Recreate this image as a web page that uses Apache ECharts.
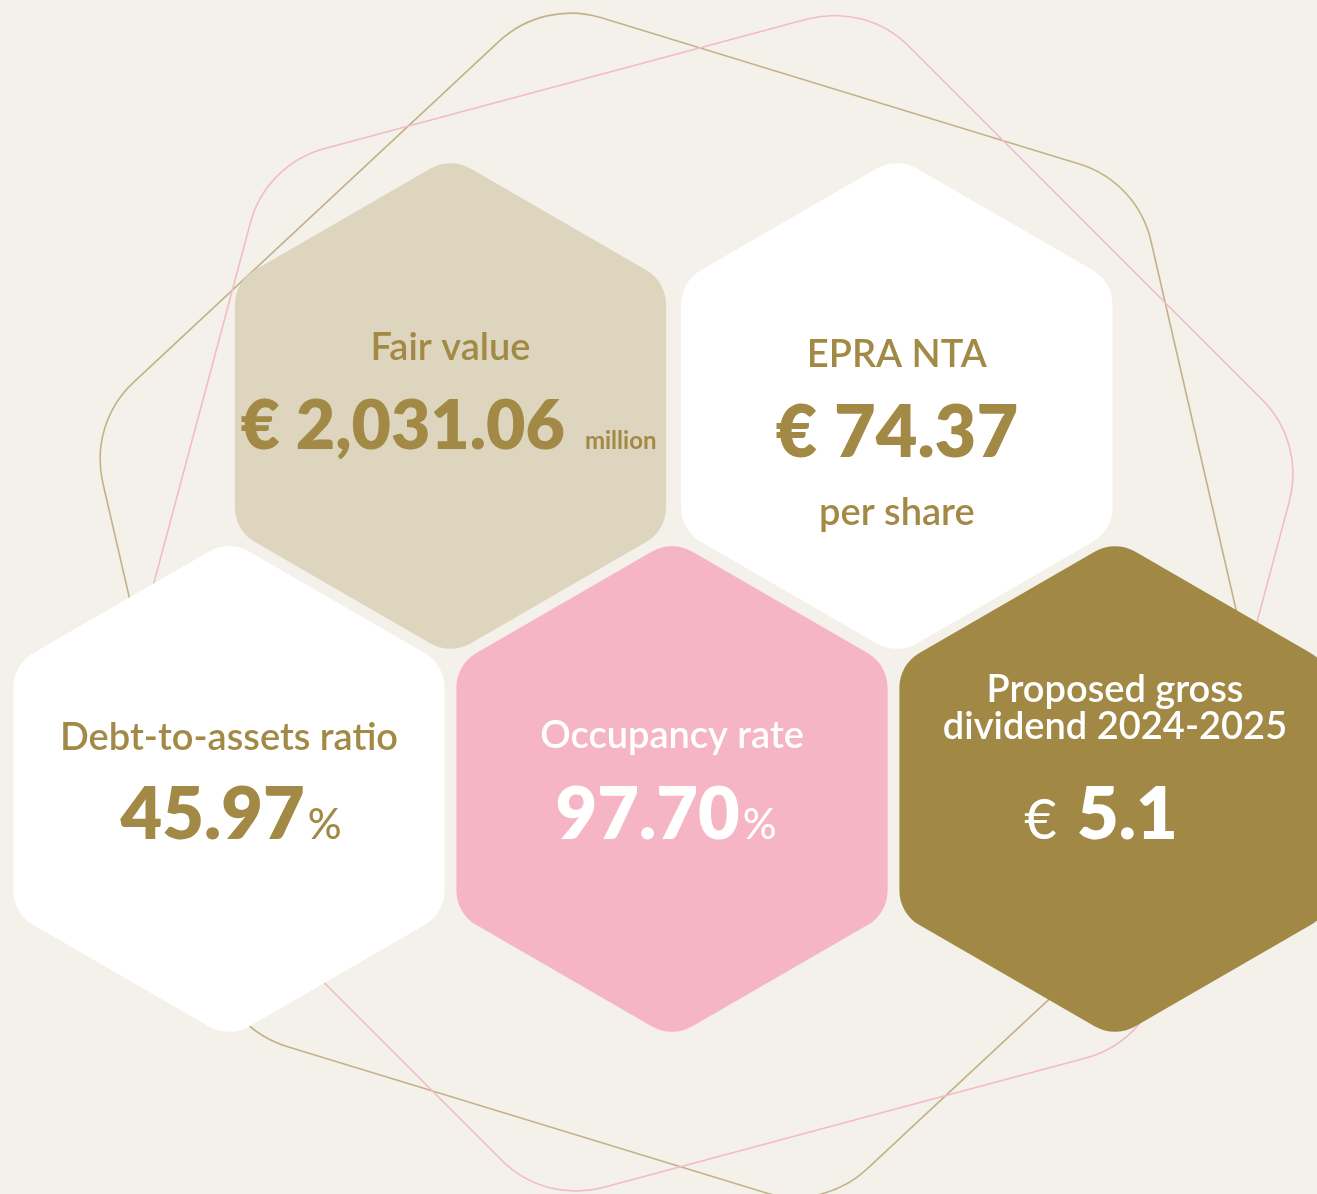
<!DOCTYPE html>
<html>
<head>
<meta charset="utf-8">
<title>Key figures</title>
<script src="https://cdn.jsdelivr.net/npm/echarts@6/dist/echarts.min.js"></script>
<style>
  html, body { margin: 0; padding: 0; background: #F4F1EA; }
  #main { width: 1317px; height: 1194px; }
</style>
</head>
<body>
<div id="main"></div>
<script>
// key figures
const titles = ['Fair value', 'EPRA NTA', 'Debt-to-assets ratio', 'Occupancy rate', 'Proposed gross\ndividend 2024-2025'];
const prefixes = ['€ ', '€ ', '', '', '€ '];
const values = ['2,031.06', '74.37', '45.97', '97.70', '5.1'];
const units = ['million', '', '%', '%', ''];
const notes = ['', 'per share', '', '', ''];

// hex grid cell [col, row] of each tile
const cells = [[1, 0], [3.015, 0], [0, 1], [2, 1], [4, 1]];
const fills = ['#DDD5BE', '#FFFFFF', '#FFFFFF', '#F5B5C4', '#A18945'];
const inks = ['#A28945', '#A28945', '#A28945', '#FFFFFF', '#FFFFFF'];
// offsets (px) of title / value / note from the tile centre
const titleDy = [-58, -51, -51, -53, -81];
const valueDy = [21, 28, 27, 27, 27];
const valueDx = [-2, 0, 2, -6, -14];
const noteDy = [0, 107, 0, 0, 0];
const numSize = [68, 72, 72, 72, 72];
const prefSize = [68, 72, 0, 0, 56];
const prefWeight = [800, 800, 400, 400, 400];
const prefGap = [0, 0, 0, 0, 6];
const unitSize = [24, 0, 42, 42, 0];
const unitWeight = [700, 400, 500, 500, 400];
const unitGap = [20, 0, 3, 3, 0];

// thin rotated outlines behind the tiles: [col, row, angle of first corner]
const rings = [[2.05, 0.52, -103], [2.15, 0.515, -75]];
const ringColors = ['#C3B189', '#F2BBC7'];

const X_MIN = -229 / 221.5, X_MAX = (1317 - 229) / 221.5;
const Y_MIN = -406 / 383, Y_MAX = (1194 - 406) / 383;
const TILE_R = 249, TILE_CORNER = 40;
const RING_R = 621, RING_CORNER = 105;
const FONT = 'Lato, "Open Sans", sans-serif';
const TITLE_SIZE = 38;
const BASE = 0.3225; // Lato: alphabetic baseline lies this many em below the middle line

function hexPath(cx, cy, R, startDeg, r) {
  const pts = [];
  for (let i = 0; i < 6; i++) {
    const a = (startDeg + i * 60) * Math.PI / 180;
    pts.push([cx + R * Math.cos(a), cy + R * Math.sin(a)]);
  }
  const t = r * Math.tan(Math.PI / 6);
  const k = 0.619;
  const f = p => p[0].toFixed(1) + ' ' + p[1].toFixed(1);
  let d = '';
  for (let i = 0; i < 6; i++) {
    const p = pts[(i + 5) % 6], v = pts[i], n = pts[(i + 1) % 6];
    const L = Math.hypot(v[0] - p[0], v[1] - p[1]);
    const a = [v[0] + (p[0] - v[0]) * t / L, v[1] + (p[1] - v[1]) * t / L];
    const b = [v[0] + (n[0] - v[0]) * t / L, v[1] + (n[1] - v[1]) * t / L];
    const c1 = [a[0] + (v[0] - a[0]) * k, a[1] + (v[1] - a[1]) * k];
    const c2 = [b[0] + (v[0] - b[0]) * k, b[1] + (v[1] - b[1]) * k];
    d += (i === 0 ? 'M' : 'L') + f(a) + 'C' + f(c1) + ' ' + f(c2) + ' ' + f(b);
  }
  return d + 'Z';
}

// smaller tokens sit on the baseline of the big number:
// bottom-aligned token box of this height puts both baselines level
function baselineBox(H, s) {
  return H - 2 * BASE * (H - s);
}

function valueLine(i) {
  const H = numSize[i];
  const rich = {
    v: { fontFamily: FONT, fontSize: H, fontWeight: 800, lineHeight: H, height: H, fill: inks[i] }
  };
  let text = '';
  if (prefixes[i]) {
    const s = prefSize[i];
    rich.p = {
      fontFamily: FONT, fontSize: s, fontWeight: prefWeight[i], fill: inks[i],
      height: baselineBox(H, s), lineHeight: baselineBox(H, s), verticalAlign: 'bottom',
      padding: [0, prefGap[i], 0, 0]
    };
    text += '{p|' + prefixes[i] + '}';
  }
  text += '{v|' + values[i] + '}';
  if (units[i]) {
    const s = unitSize[i];
    rich.u = {
      fontFamily: FONT, fontSize: s, fontWeight: unitWeight[i], fill: inks[i],
      height: baselineBox(H, s), lineHeight: baselineBox(H, s), verticalAlign: 'bottom',
      padding: [0, 0, 0, unitGap[i]]
    };
    text += '{u|' + units[i] + '}';
  }
  return { text, rich };
}

const chart = echarts.init(document.getElementById('main'));

const option = {
  backgroundColor: '#F4F1EA',
  animation: false,
  grid: { left: 0, right: 0, top: 0, bottom: 0 },
  xAxis: { type: 'value', min: X_MIN, max: X_MAX, show: false },
  yAxis: { type: 'value', min: Y_MIN, max: Y_MAX, inverse: true, show: false },
  series: [
    {
      type: 'custom',
      name: 'rings',
      silent: true,
      encode: { x: 0, y: 1 },
      data: rings.map((r, i) => [r[0], r[1], r[2], i]),
      renderItem: function (params, api) {
        const c = api.coord([api.value(0), api.value(1)]);
        const i = api.value(3);
        return {
          type: 'path',
          shape: { pathData: hexPath(c[0], c[1], RING_R, api.value(2), RING_CORNER) },
          style: { fill: 'none', stroke: ringColors[i], lineWidth: 1.6 }
        };
      }
    },
    {
      type: 'custom',
      name: 'tiles',
      silent: true,
      encode: { x: 0, y: 1 },
      data: cells.map((c, i) => [c[0], c[1], i]),
      renderItem: function (params, api) {
        const c = api.coord([api.value(0), api.value(1)]);
        const i = api.value(2);
        const children = [{
          type: 'path',
          shape: { pathData: hexPath(c[0], c[1], TILE_R, -90, TILE_CORNER) },
          style: { fill: fills[i] }
        }, {
          type: 'text',
          x: c[0], y: c[1] + titleDy[i],
          style: {
            text: titles[i], fill: inks[i], fontFamily: FONT, fontSize: TITLE_SIZE, fontWeight: 600,
            lineHeight: 37, align: 'center', verticalAlign: 'middle'
          }
        }];
        const vl = valueLine(i);
        children.push({
          type: 'text',
          x: c[0] + valueDx[i], y: c[1] + valueDy[i],
          style: { text: vl.text, rich: vl.rich, align: 'center', verticalAlign: 'middle' }
        });
        if (notes[i]) {
          children.push({
            type: 'text',
            x: c[0], y: c[1] + noteDy[i],
            style: {
              text: notes[i], fill: inks[i], fontFamily: FONT, fontSize: TITLE_SIZE, fontWeight: 600,
              align: 'center', verticalAlign: 'middle'
            }
          });
        }
        return { type: 'group', children };
      }
    }
  ]
};

chart.setOption(option);
</script>
</body>
</html>
